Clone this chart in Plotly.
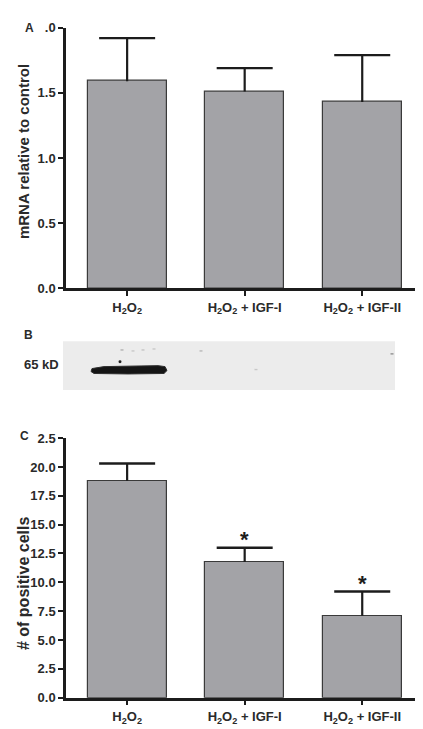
import plotly.graph_objects as go

W, H = 423, 729

categories = ["H<sub>2</sub>O<sub>2</sub>",
              "H<sub>2</sub>O<sub>2</sub> + IGF-I",
              "H<sub>2</sub>O<sub>2</sub> + IGF-II"]

# Panel A: mRNA relative to control
mrna_values = [1.59, 1.51, 1.43]
mrna_errors = [0.33, 0.18, 0.36]
mrna_tickvals = [0.0, 0.5, 1.0, 1.5, 2.0]
mrna_ticktext = ["0.0", "0.5", "1.0", "1.5", ".0"]

# Panel C: number of positive cells
cells_values = [18.8, 11.75, 7.1]
cells_errors = [1.5, 1.25, 2.1]
cells_sig = ["", "*", "*"]
cells_tickvals = [0, 2.5, 5, 7.5, 10, 12.5, 15, 17.5, 20, 22.5]
cells_ticktext = ["0.0", "2.5", "5.0", "7.5", "10.0", "12.5", "15.0", "17.5", "20.0", "2.5"]

xpos = [0, 1, 2]

def px_x(p):
    return p / W

def px_y(p):
    return 1 - p / H

BAR_FILL = "#a3a3a7"
BAR_LINE = "#3a3a3a"
INK = "#1c1c1c"
FONT = "Liberation Sans, Arial, sans-serif"

fig = go.Figure()

def add_panel(values, errors, xa, ya):
    fig.add_trace(go.Bar(
        x=xpos, y=values, width=0.67,
        marker=dict(color=BAR_FILL, line=dict(color=BAR_LINE, width=1.2)),
        error_y=dict(type="data", symmetric=False, array=errors,
                     arrayminus=[0] * len(values), color=INK, thickness=2.2, width=0),
        xaxis=xa, yaxis=ya, showlegend=False, hoverinfo="skip",
    ))
    # caps on top of the error bars only
    fig.add_trace(go.Scatter(
        x=xpos, y=[v + e for v, e in zip(values, errors)], mode="markers",
        marker=dict(symbol="line-ew", size=40, line=dict(color=INK, width=2.4)),
        xaxis=xa, yaxis=ya, showlegend=False, hoverinfo="skip",
    ))

add_panel(mrna_values, mrna_errors, "x", "y")
add_panel(cells_values, cells_errors, "x2", "y2")

tickfont = dict(family=FONT, size=13, color="#2a2a2a", weight="bold")

xcommon = dict(range=[-0.52, 2.5], tickmode="array", tickvals=xpos,
               ticktext=categories, showline=True, linewidth=2.5, linecolor=INK,
               ticks="outside", ticklen=5, tickwidth=2, tickcolor=INK,
               showgrid=False, zeroline=False, tickfont=tickfont,
               domain=[px_x(58), px_x(413)], fixedrange=True)

ycommon = dict(tickmode="array", showline=True, linewidth=2.5, linecolor=INK,
               ticks="outside", ticklen=5, tickwidth=2, tickcolor=INK,
               showgrid=False, zeroline=False, tickfont=tickfont, fixedrange=True)

fig.update_layout(
    width=W, height=H,
    margin=dict(l=0, r=0, t=0, b=0),
    paper_bgcolor="white", plot_bgcolor="white",
    bargap=0,
    xaxis=dict(**xcommon, anchor="y"),
    yaxis=dict(**ycommon, range=[0, 2.0], domain=[px_y(279), px_y(13)], anchor="x",
               tickvals=mrna_tickvals, ticktext=mrna_ticktext),
    xaxis2=dict(**xcommon, anchor="y2"),
    yaxis2=dict(**ycommon, range=[0, 22.5], domain=[px_y(697), px_y(432)], anchor="x2",
                tickvals=cells_tickvals, ticktext=cells_ticktext),
)

annotations = []
# significance stars
for i, (v, e, s) in enumerate(zip(cells_values, cells_errors, cells_sig)):
    if s:
        annotations.append(dict(x=xpos[i], y=v + e, xref="x2", yref="y2", text=s,
                                showarrow=False, yanchor="bottom", yshift=-6,
                                font=dict(family=FONT, size=22, color=INK, weight="bold")))
# axis titles
annotations.append(dict(x=px_x(15), y=px_y(140), xref="paper", yref="paper",
                        text="mRNA relative to control", textangle=-90,
                        showarrow=False, xanchor="center", yanchor="middle",
                        font=dict(family=FONT, size=15, color="#2a2a2a", weight="bold")))
annotations.append(dict(x=px_x(15), y=px_y(581), xref="paper", yref="paper",
                        text="# of positive cells", textangle=-90,
                        showarrow=False, xanchor="center", yanchor="middle",
                        font=dict(family=FONT, size=16, color="#2a2a2a", weight="bold")))
# panel letters
for letter, (lx, ly) in {"A": (21, 13), "B": (20, 327), "C": (16, 430)}.items():
    annotations.append(dict(x=px_x(lx), y=px_y(ly), xref="paper", yref="paper",
                            text=letter, showarrow=False, xanchor="center", yanchor="middle",
                            font=dict(family=FONT, size=12, color="#2a2a2a", weight="bold")))
# western blot label
annotations.append(dict(x=px_x(33), y=px_y(357), xref="paper", yref="paper",
                        text="65 kD", showarrow=False, xanchor="center", yanchor="middle",
                        font=dict(family=FONT, size=13, color="#2a2a2a", weight="bold")))

shapes = []
# blot membrane
shapes.append(dict(type="rect", xref="paper", yref="paper",
                   x0=px_x(55), x1=px_x(387), y0=px_y(383), y1=px_y(333),
                   fillcolor="#ececec", line=dict(width=0), layer="below"))
# band
def P(x, y):
    return f"{px_x(x)},{px_y(y)}"
band = ("M " + P(84, 361) + " L " + P(96, 359) + " L " + P(150, 358) + " L " + P(157, 359)
        + " L " + P(159, 363) + " L " + P(156, 366) + " L " + P(120, 366.5) + " L " + P(86, 366)
        + " L " + P(83, 364) + " Z")
shapes.append(dict(type="path", xref="paper", yref="paper", path=band,
                   fillcolor="#151515", line=dict(color="#303030", width=1)))
shapes.append(dict(type="circle", xref="paper", yref="paper",
                   x0=px_x(110.5), x1=px_x(113.5), y0=px_y(355.5), y1=px_y(352.5),
                   fillcolor="#202020", line=dict(width=0)))
# faint specks
for (sx, sy, c) in [(114, 342, "#b0b0b0"), (125, 343, "#c8c8c8"), (135, 342, "#c4c4c4"),
                    (146, 341, "#c8c8c8"), (193, 343, "#b8b8b8"), (384, 346, "#909090"),
                    (248, 362, "#c8c8c8")]:
    shapes.append(dict(type="rect", xref="paper", yref="paper",
                       x0=px_x(sx - 1.5), x1=px_x(sx + 1.5), y0=px_y(sy + 0.7), y1=px_y(sy - 0.7),
                       fillcolor=c, line=dict(width=0)))

fig.update_layout(annotations=annotations, shapes=shapes)

fig.write_html("out.html")
